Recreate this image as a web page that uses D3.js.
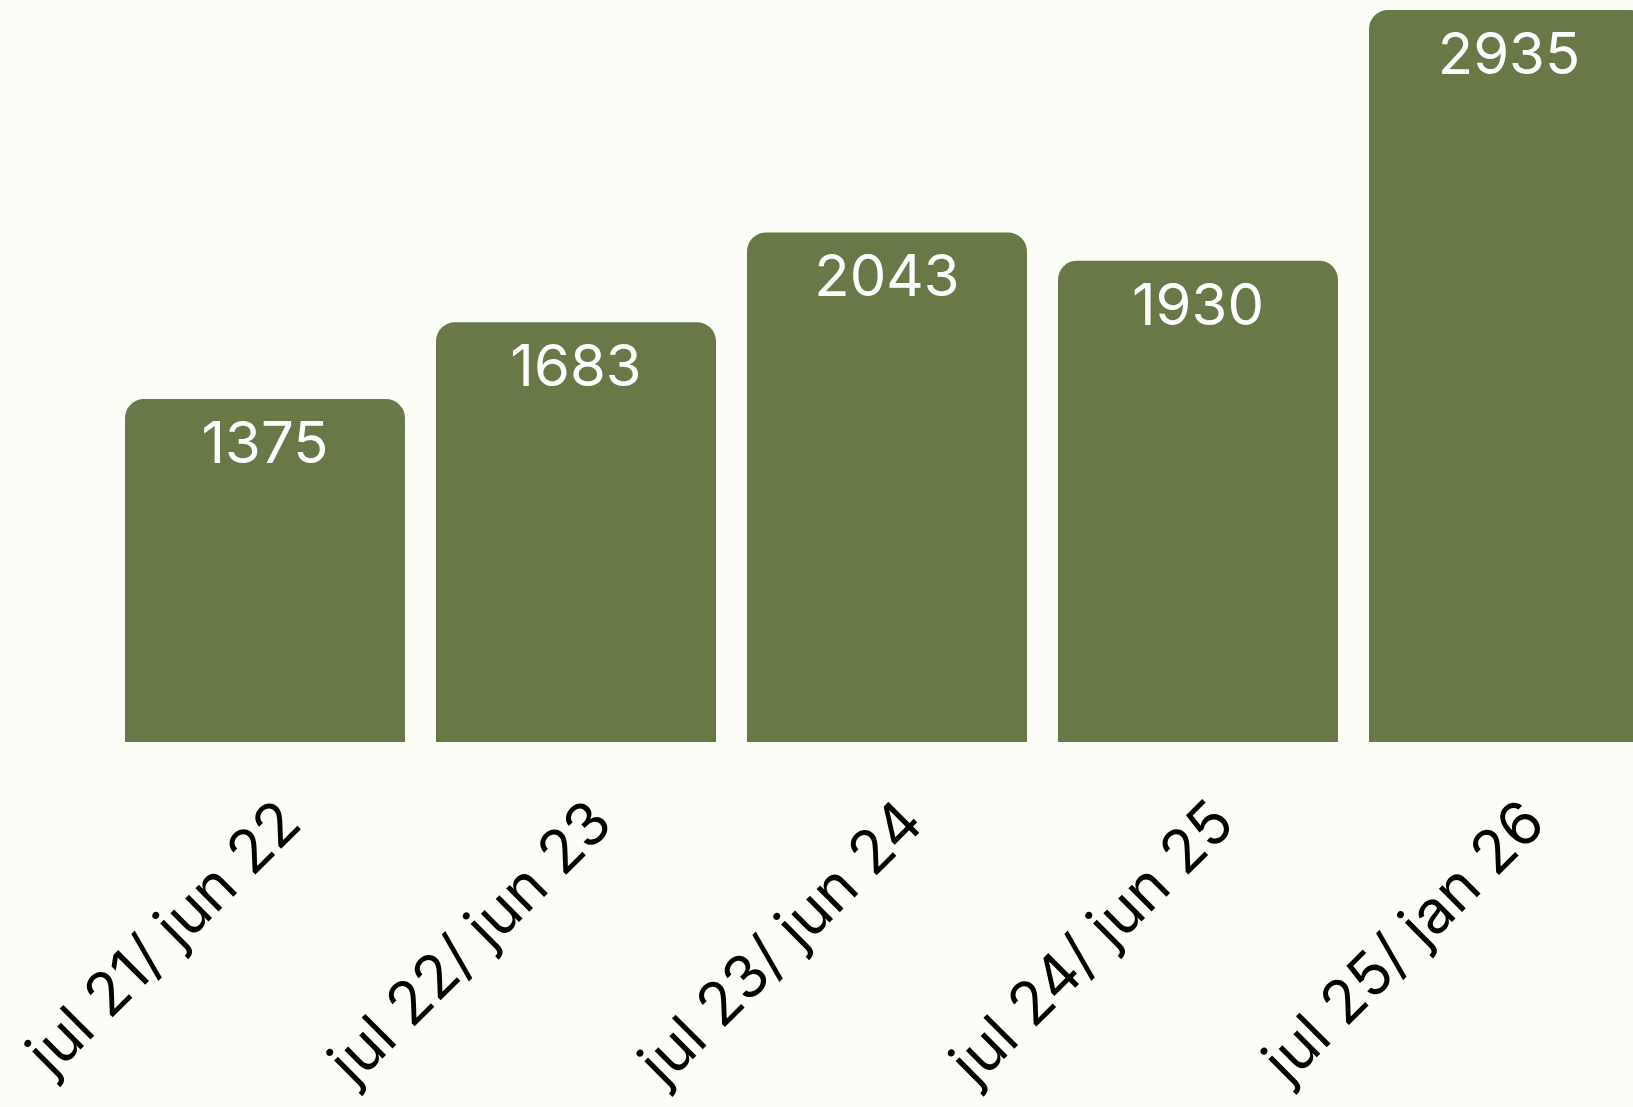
<!DOCTYPE html>
<html>
<head>
<meta charset="utf-8">
<script src="https://cdn.jsdelivr.net/npm/d3@7"></script>
<style>
  html, body { margin: 0; padding: 0; background: #fcfdf6; overflow: hidden; }
  svg { display: block; }
  .val { font-family: "Inter", "Noto Sans", sans-serif; fill: #fff; }
  .cat { font-family: "Inter", "Noto Sans", sans-serif; fill: #000; }
</style>
</head>
<body>
<script>
// chart data
var periods = ['jul 21/ jun 22', 'jul 22/ jun 23', 'jul 23/ jun 24', 'jul 24/ jun 25', 'jul 25/ jan 26'];
var totals = [1375, 1683, 2043, 1930, 2935];

var w = 1633;
var h = 1107;
var margin = {left: 125, right: 0, top: 10, bottom: 365}
var barColor = '#687847';
var r = 19;
var step = 311, gap = 31;

var svg = d3.select('body')
	.append('svg')
	.attr('width', w)
	.attr('height', h)

var rows = periods.map(function(p, i) { return {period: p, val: totals[i]}; })

var xscale = d3.scaleBand()
	.domain(periods)
	.range([margin.left, margin.left + step * periods.length - gap])
	.paddingInner(gap / step)
	.paddingOuter(0)

var yscale = d3.scaleLinear()
	.domain([0, d3.max(totals)])
	.range([h - margin.bottom, margin.top])

// bar with only the top corners rounded
function barPath(d) {
	var x0 = xscale(d.period), x1 = x0 + xscale.bandwidth();
	var y0 = yscale(0), y1 = yscale(d.val);
	return 'M' + x0 + ',' + y0 +
		'V' + (y1 + r) +
		'A' + r + ',' + r + ' 0 0 1 ' + (x0 + r) + ',' + y1 +
		'H' + (x1 - r) +
		'A' + r + ',' + r + ' 0 0 1 ' + x1 + ',' + (y1 + r) +
		'V' + y0 + 'Z';
}

svg.selectAll('.bar')
	.data(rows)
	.enter()
	.append('path')
	.attr('class', 'bar')
	.attr('fill', barColor)
	.attr('d', barPath)

svg.selectAll('.val')
	.data(rows)
	.enter()
	.append('text')
	.attr('class', 'val')
	.attr('x', function(d) { return xscale(d.period) + xscale.bandwidth() / 2; })
	.attr('y', function(d) { return yscale(d.val) + 64; })
	.attr('text-anchor', 'middle')
	.style('font-size', '58px')
	.text(function(d) { return d.val; })

// category labels, rotated
var xaxis = d3.axisBottom(xscale).tickSize(0).tickPadding(0)

var gx = svg.append('g')
	.attr('class', 'xaxis')
	.attr('transform', 'translate(0,' + yscale(0) + ')')
	.call(xaxis)

gx.select('.domain').remove()

gx.selectAll('.tick text')
	.attr('class', 'cat')
	.attr('fill', '#000')
	.attr('dy', null)
	.attr('y', 0)
	.attr('text-anchor', 'end')
	.attr('transform', 'translate(39,84) rotate(-45)')
	.style('font-size', '60px')
</script>
</body>
</html>
